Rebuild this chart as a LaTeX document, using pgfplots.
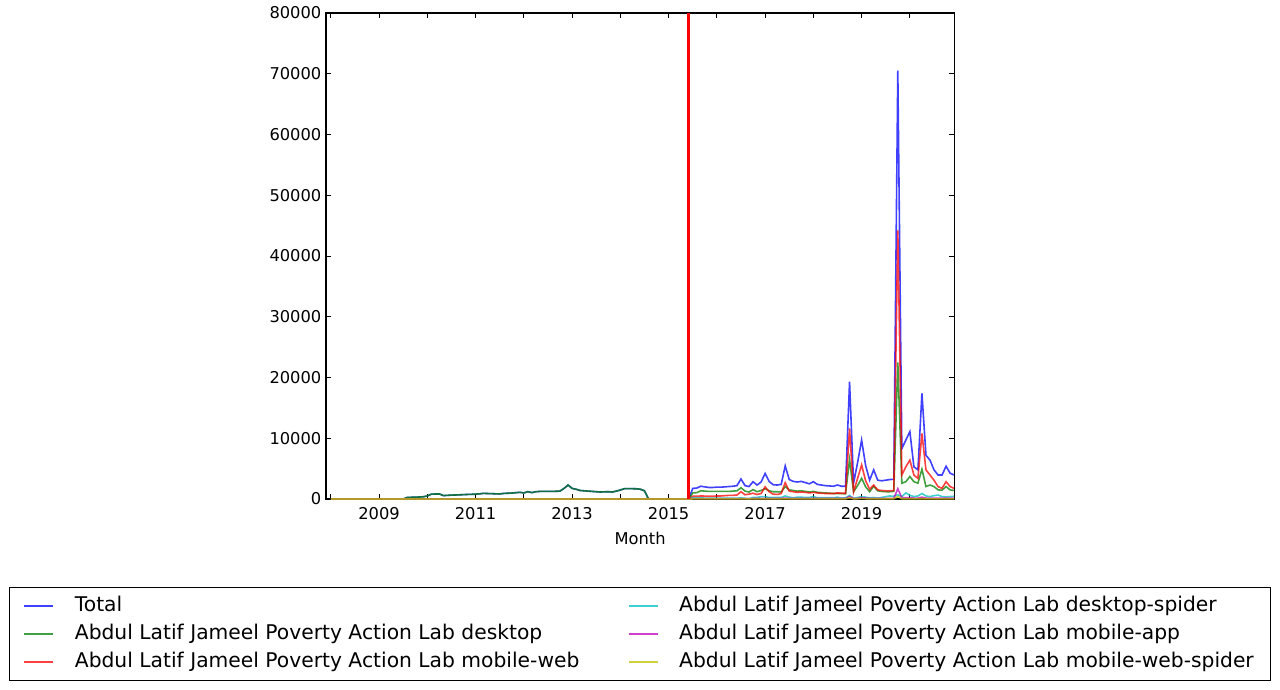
\documentclass[border=0pt]{standalone}
\usepackage{fontspec}
\setmainfont{DejaVu Sans}
\usepackage{pgfplots}
\usepackage{pgfplotstable}
\pgfplotsset{compat=1.18}
\definecolor{mb}{rgb}{0,0,1}
\definecolor{mg}{rgb}{0,0.5,0}
\definecolor{mr}{rgb}{1,0,0}
\definecolor{mc}{rgb}{0,0.75,0.75}
\definecolor{mm}{rgb}{0.75,0,0.75}
\definecolor{my}{rgb}{0.75,0.75,0}
\pgfplotstableread{
i tot desk mweb dsp mapp mws
0 0 0 0 0 0 0
1 0 0 0 0 0 0
2 0 0 0 0 0 0
3 0 0 0 0 0 0
4 0 0 0 0 0 0
5 0 0 0 0 0 0
6 0 0 0 0 0 0
7 0 0 0 0 0 0
8 0 0 0 0 0 0
9 0 0 0 0 0 0
10 0 0 0 0 0 0
11 0 0 0 0 0 0
12 0 0 0 0 0 0
13 0 0 0 0 0 0
14 0 0 0 0 0 0
15 0 0 0 0 0 0
16 0 0 0 0 0 0
17 0 0 0 0 0 0
18 0 0 0 0 0 0
19 250 250 0 0 0 0
20 280 280 0 0 0 0
21 300 300 0 0 0 0
22 330 330 0 0 0 0
23 370 370 0 0 0 0
24 500 500 0 0 0 0
25 800 800 0 0 0 0
26 820 820 0 0 0 0
27 830 830 0 0 0 0
28 560 560 0 0 0 0
29 600 600 0 0 0 0
30 640 640 0 0 0 0
31 660 660 0 0 0 0
32 690 690 0 0 0 0
33 720 720 0 0 0 0
34 750 750 0 0 0 0
35 770 770 0 0 0 0
36 800 800 0 0 0 0
37 850 850 0 0 0 0
38 930 930 0 0 0 0
39 900 900 0 0 0 0
40 880 880 0 0 0 0
41 850 850 0 0 0 0
42 830 830 0 0 0 0
43 920 920 0 0 0 0
44 950 950 0 0 0 0
45 980 980 0 0 0 0
46 1040 1040 0 0 0 0
47 1100 1100 0 0 0 0
48 1000 1000 0 0 0 0
49 1200 1200 0 0 0 0
50 1050 1050 0 0 0 0
51 1200 1200 0 0 0 0
52 1250 1250 0 0 0 0
53 1260 1260 0 0 0 0
54 1250 1250 0 0 0 0
55 1260 1260 0 0 0 0
56 1270 1270 0 0 0 0
57 1300 1300 0 0 0 0
58 1750 1750 0 0 0 0
59 2300 2300 0 0 0 0
60 1750 1750 0 0 0 0
61 1600 1600 0 0 0 0
62 1400 1400 0 0 0 0
63 1350 1350 0 0 0 0
64 1300 1300 0 0 0 0
65 1250 1250 0 0 0 0
66 1200 1200 0 0 0 0
67 1150 1150 0 0 0 0
68 1180 1180 0 0 0 0
69 1200 1200 0 0 0 0
70 1150 1150 0 0 0 0
71 1300 1300 0 0 0 0
72 1480 1480 0 0 0 0
73 1700 1700 0 0 0 0
74 1720 1720 0 0 0 0
75 1700 1700 0 0 0 0
76 1680 1680 0 0 0 0
77 1600 1600 0 0 0 0
78 1350 1350 0 0 0 0
79 0 0 0 0 0 0
80 0 0 0 0 0 0
81 0 0 0 0 0 0
82 0 0 0 0 0 0
83 0 0 0 0 0 0
84 0 0 0 0 0 0
85 0 0 0 0 0 0
86 0 0 0 0 0 0
87 0 0 0 0 0 0
88 0 0 0 0 0 0
89 0 0 0 0 0 0
90 1750 1000 450 200 60 10
91 1800 1050 450 220 60 10
92 2100 1350 500 180 60 10
93 2000 1300 480 150 60 10
94 1900 1250 450 130 60 10
95 1900 1250 450 130 60 10
96 1950 1250 500 130 60 10
97 1950 1250 500 130 60 10
98 2000 1250 550 130 60 10
99 2050 1250 600 130 60 10
100 2100 1300 600 130 60 10
101 2200 1350 650 130 60 10
102 3300 1850 1200 180 60 10
103 2200 1300 700 130 60 10
104 2050 1150 800 40 50 10
105 2850 1550 950 250 80 20
106 2300 1200 750 250 80 20
107 2800 1400 900 400 80 20
108 4200 1700 2000 400 80 20
109 2900 1350 1200 250 80 20
110 2350 1200 800 250 80 20
111 2300 1200 750 250 80 20
112 2400 1150 900 250 80 20
113 5450 2050 2700 500 150 50
114 3200 1500 1300 300 80 20
115 2900 1400 1200 200 80 20
116 2800 1300 1100 300 80 20
117 2900 1350 1150 300 80 20
118 2700 1250 1100 250 80 20
119 2500 1150 1000 250 80 20
120 2850 1250 1100 400 80 20
121 2400 1100 1000 200 80 20
122 2300 1050 950 200 80 20
123 2200 1000 900 200 80 20
124 2150 950 900 200 80 20
125 2100 900 900 200 80 20
126 2300 900 1000 300 80 20
127 2100 900 950 150 80 20
128 2100 850 950 200 80 20
129 19300 6500 11600 600 400 200
130 2600 1200 1200 100 80 20
131 6000 2200 3400 250 100 50
132 9700 3400 5600 400 200 100
133 5500 2000 3000 300 150 50
134 3100 1200 1600 200 80 20
135 4800 2100 2300 250 100 50
136 3100 1350 1500 150 80 20
137 3000 1250 1400 250 80 20
138 3100 1200 1350 400 100 50
139 3200 1200 1350 500 100 50
140 3250 1250 1400 450 100 50
141 70500 22500 44200 700 1700 400
142 8300 2600 3950 400 200 50
143 9700 2850 5300 1000 200 50
144 11100 3700 6400 600 200 50
145 5300 2850 3950 400 150 30
146 4800 2600 3400 500 150 30
147 17400 4900 10800 900 300 50
148 7200 2050 4800 500 150 30
149 6400 2300 3950 400 150 30
150 4800 2050 3100 550 150 30
151 3950 1500 2050 650 120 30
152 3950 1450 1750 400 120 30
153 5400 2050 2850 350 120 30
154 4250 1500 2050 400 120 30
155 3950 1400 1750 450 120 30
}\datatable
\begin{document}
\begin{tikzpicture}
\begin{axis}[
  at={(0pt,0pt)}, anchor=south west,
  width=471.2pt, height=364.5pt, scale only axis,
  xmin=-1.2, xmax=155.04,
  ymin=0, ymax=80000,
  xtick={0,12,...,144},
  xticklabels={,2009,,2011,,2013,,2015,,2017,,2019,},
  ytick={0,10000,...,80000},
  scaled y ticks=false,
  yticklabel style={/pgf/number format/.cd, 1000 sep={}},
  xticklabel style={yshift=-3pt},
  /pgf/number format/assume math mode=true,
  tick align=inside,
  major tick length=4pt,
  tick style={black, line width=0.6pt},
  axis line style={black, line width=0.8pt},
  ticklabel style={font=\fontsize{12.2}{14.6}\selectfont},
  label style={font=\fontsize{12.2}{14.6}\selectfont},
  xlabel={Month},
  xlabel style={yshift=-2pt},
  legend columns=2,
  legend cell align=left,
  legend image code/.code={\draw[#1] (0pt,0pt) -- (21.75pt,0pt);},
  legend style={
    at={(-0.5045,-0.1811)}, anchor=north west,
    draw=black, line width=0.8pt,
    inner xsep=10.5pt, inner ysep=6.6pt,
    font=\fontsize{15.2}{18}\selectfont,
    column sep=0pt, row sep=6.5pt,
    /tikz/every odd column/.append style={column sep=15.75pt},
    nodes={inner sep=0pt, text height=11pt, text depth=3.5pt},
  },
]
\addplot[mb, line width=1.2pt, draw opacity=0.75, forget plot] table[x=i, y=tot] {\datatable};
\addplot[mg, line width=1.2pt, draw opacity=0.75, forget plot] table[x=i, y=desk] {\datatable};
\addplot[mr, line width=1.2pt, draw opacity=0.75, forget plot] table[x=i, y=mweb] {\datatable};
\addplot[mc, line width=1.2pt, draw opacity=0.75, forget plot] table[x=i, y=dsp] {\datatable};
\addplot[mm, line width=1.2pt, draw opacity=0.75, forget plot] table[x=i, y=mapp] {\datatable};
\addplot[my, line width=1.2pt, draw opacity=0.75, forget plot] table[x=i, y=mws] {\datatable};
\addplot[mr, line width=2.2pt, forget plot] coordinates {(88.9,0) (88.9,80000)};
\addlegendimage{mb, line width=1pt, draw opacity=0.75}
\addlegendentry{\makebox[414.75pt][l]{Total}}
\addlegendimage{mc, line width=1pt, draw opacity=0.75}
\addlegendentry{\makebox[432.75pt][l]{Abdul Latif Jameel Poverty Action Lab desktop-spider}}
\addlegendimage{mg, line width=1pt, draw opacity=0.75}
\addlegendentry{\makebox[414.75pt][l]{Abdul Latif Jameel Poverty Action Lab desktop}}
\addlegendimage{mm, line width=1pt, draw opacity=0.75}
\addlegendentry{\makebox[432.75pt][l]{Abdul Latif Jameel Poverty Action Lab mobile-app}}
\addlegendimage{mr, line width=1pt, draw opacity=0.75}
\addlegendentry{\makebox[414.75pt][l]{Abdul Latif Jameel Poverty Action Lab mobile-web}}
\addlegendimage{my, line width=1pt, draw opacity=0.75}
\addlegendentry{\makebox[432.75pt][l]{Abdul Latif Jameel Poverty Action Lab mobile-web-spider}}
\end{axis}
\pgfresetboundingbox
\path (-244.5pt,-142.5pt) rectangle (715.5pt,374.25pt);
\end{tikzpicture}
\end{document}
